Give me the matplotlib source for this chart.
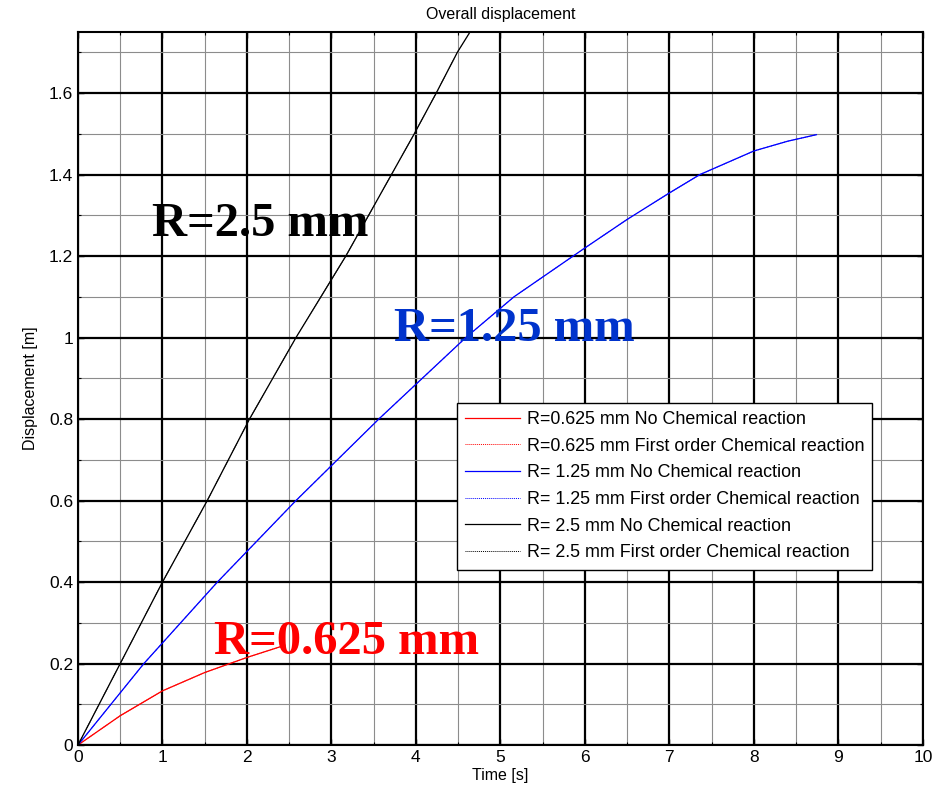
import matplotlib
matplotlib.use("Agg")
import matplotlib.pyplot as plt
from matplotlib.ticker import MultipleLocator

plt.rcParams['font.family'] = ['Liberation Sans', 'DejaVu Sans']

# Overall displacement [m] versus time [s] for three particle radii
t_r0625 = [0, 0.5, 1.0, 1.5, 2.0, 2.45]
d_r0625_none = [0, 0.072, 0.133, 0.178, 0.215, 0.245]
d_r0625_first = [0, 0.072, 0.133, 0.178, 0.215, 0.245]

t_r125 = [0, 0.78, 1.65, 2.58, 3.56, 4.59, 5.16, 6.0, 6.5, 7.0, 7.36, 8.0, 8.4, 8.74]
d_r125_none = [0, 0.20, 0.40, 0.60, 0.80, 1.00, 1.10, 1.22, 1.29, 1.355, 1.40, 1.458, 1.482, 1.498]
d_r125_first = [0, 0.20, 0.40, 0.60, 0.80, 1.00, 1.10, 1.22, 1.29, 1.355, 1.40, 1.458, 1.482, 1.498]

t_r25 = [0, 0.5, 1.0, 1.53, 2.03, 2.58, 3.17, 3.98, 4.24, 4.49, 4.64, 4.75]
d_r25_none = [0, 0.20, 0.40, 0.60, 0.80, 1.00, 1.20, 1.50, 1.60, 1.70, 1.75, 1.79]
d_r25_first = [0, 0.20, 0.40, 0.60, 0.80, 1.00, 1.20, 1.50, 1.60, 1.70, 1.75, 1.79]

x_ticks = [0, 1, 2, 3, 4, 5, 6, 7, 8, 9, 10]
x_tick_labels = ['0', '1', '2', '3', '4', '5', '6', '7', '8', '9', '10']
y_ticks = [0, 0.2, 0.4, 0.6, 0.8, 1.0, 1.2, 1.4, 1.6]
y_tick_labels = ['0', '0.2', '0.4', '0.6', '0.8', '1', '1.2', '1.4', '1.6']

labels = [
    "R=0.625 mm No Chemical reaction",
    "R=0.625 mm First order Chemical reaction",
    "R= 1.25 mm No Chemical reaction",
    "R= 1.25 mm First order Chemical reaction",
    "R= 2.5 mm No Chemical reaction",
    "R= 2.5 mm First order Chemical reaction",
]

fig = plt.figure(figsize=(9.35, 7.96), dpi=100)
ax = fig.add_axes([0.0834, 0.064, 0.9036, 0.8958])

ax.plot(t_r0625, d_r0625_none, color='#ff0000', lw=0.9, label=labels[0])
ax.plot(t_r0625, d_r0625_first, color='#ff0000', lw=0.7, ls=(0, (1, 1)), label=labels[1])
ax.plot(t_r125, d_r125_none, color='#0000ff', lw=0.9, label=labels[2])
ax.plot(t_r125, d_r125_first, color='#0000ff', lw=0.7, ls=(0, (1, 1)), label=labels[3])
ax.plot(t_r25, d_r25_none, color='#000000', lw=0.9, label=labels[4])
ax.plot(t_r25, d_r25_first, color='#000000', lw=0.7, ls=(0, (1, 1)), label=labels[5])

ax.set_xlim(0, 10)
ax.set_ylim(0, 1.75)
ax.set_xticks(x_ticks)
ax.set_xticklabels(x_tick_labels)
ax.set_yticks(y_ticks)
ax.set_yticklabels(y_tick_labels)
ax.xaxis.set_minor_locator(MultipleLocator(0.5))
ax.yaxis.set_minor_locator(MultipleLocator(0.1))

ax.grid(which='major', color='black', lw=1.6, ls='-')
ax.grid(which='minor', color='#8c8c8c', lw=0.8, ls='-')
ax.set_axisbelow(True)

ax.tick_params(which='both', direction='in', top=True, right=True, labelsize=12.5, color='black')
ax.tick_params(which='major', length=4, width=1)
ax.tick_params(which='minor', length=2.5, width=0.8)
for s in ax.spines.values():
    s.set_linewidth(1.5)
    s.set_color('black')

ax.set_title("Overall displacement", fontsize=11.5, pad=9)
ax.set_xlabel("Time [s]", fontsize=11.5, labelpad=2)
ax.set_ylabel("Displacement [m]", fontsize=11.5, labelpad=8)

serif = ['Liberation Serif', 'DejaVu Serif']
ax.text(0.88, 1.28, "R=2.5 mm", color='black', fontsize=35, fontweight='bold',
        family=serif, va='center', ha='left')
ax.text(3.74, 1.02, "R=1.25 mm", color='#0033cc', fontsize=35, fontweight='bold',
        family=serif, va='center', ha='left')
ax.text(1.61, 0.253, "R=0.625 mm", color='#ff0000', fontsize=35, fontweight='bold',
        family=serif, va='center', ha='left')

leg = ax.legend(loc='upper left', bbox_to_anchor=(0.4485, 0.4797), fontsize=12.9,
                handlelength=3.05, handletextpad=0.4, borderpad=0.45, labelspacing=0.54,
                borderaxespad=0, fancybox=False, framealpha=1, edgecolor='black')
leg.get_frame().set_linewidth(1.0)

fig.savefig("out.png", dpi=100, facecolor='white')
